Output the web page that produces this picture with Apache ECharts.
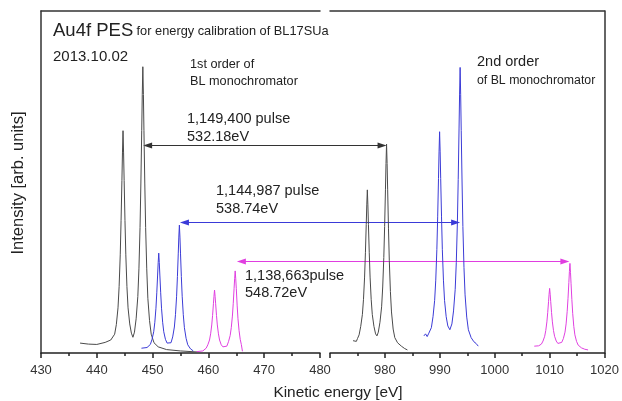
<!DOCTYPE html>
<html><head><meta charset="utf-8">
<script src="https://cdn.jsdelivr.net/npm/echarts@6/dist/echarts.min.js"></script>
<style>html,body{margin:0;padding:0;background:#fff}#c{width:622px;height:401px}</style>
</head><body><div id="c"></div>
<script>
// ---- data (kinetic energy [eV], intensity [arb.]) ----
const black1st = [[437.0,2.9],[438.5,2.6],[440.0,2.5],[441.5,3.1],[442.5,3.8],[443.2,5.5],[443.5,8.3],[443.8,13.2],[444.0,19.4],[444.2,28.7],[444.35,38.7],[444.5,50.4],[444.6,58.5],[444.7,65],[444.8,58.5],[444.9,50.4],[445.05,38.7],[445.2,28.7],[445.4,19.4],[445.6,13.2],[445.9,8.5],[446.2,5.8],[446.475,4.6],[446.75,6.1],[447.05,10],[447.35,16.5],[447.55,24.6],[447.75,36.7],[447.9,49.7],[448.05,65.1],[448.15,75.6],[448.25,83.7],[448.35,75.6],[448.45,65.1],[448.6,49.7],[448.75,36.7],[448.95,24.6],[449.15,16],[449.45,9.5],[449.75,5.5],[450.25,3],[451.0,1.8],[452.5,1.0],[455.0,0.6],[458.0,0.3]];
const blue1st = [[448.0,1.4],[449.0,1.6],[449.6,2.5],[449.9,4.0],[450.2,6.2],[450.4,9.0],[450.6,13.1],[450.75,17.6],[450.9,22.8],[451.0,26.4],[451.1,29.2],[451.2,26.4],[451.3,22.8],[451.45,17.6],[451.6,13.1],[451.8,9.0],[452.0,6.2],[452.3,4.0],[452.6,2.9],[452.95,2.7],[453.3,3.0],[453.6,4.7],[453.9,7.6],[454.1,11.2],[454.3,16.6],[454.45,22.4],[454.6,29.2],[454.7,33.9],[454.8,37.4],[454.9,33.9],[455.0,29.2],[455.15,22.4],[455.3,16.6],[455.5,11.2],[455.7,7.4],[456.0,4.3],[456.3,2.4],[456.8,1.2],[457.3,0.6]];
const magenta1st = [[457.9,0.4],[459.0,0.6],[459.6,1.4],[459.9,2.4],[460.2,3.8],[460.4,5.6],[460.6,8.2],[460.75,11.0],[460.9,14.4],[461.0,16.6],[461.1,18.4],[461.2,16.6],[461.3,14.4],[461.45,11.0],[461.6,8.2],[461.8,5.6],[462.0,3.8],[462.3,2.4],[462.6,1.8],[462.95,1.7],[463.3,2.0],[463.6,3.3],[463.9,5.1],[464.1,7.4],[464.3,10.8],[464.45,14.4],[464.6,18.8],[464.7,21.7],[464.8,24.0],[464.9,21.7],[465.0,18.8],[465.15,14.0],[465.3,10.0],[465.5,6.5],[465.7,4.0],[465.9,2.5],[466.1,0.5]];
const black2nd = [[974.2,3.6],[974.5,3.9],[974.8,3.4],[975.0,4.2],[975.3,5.3],[975.6,7.8],[975.9,11.3],[976.1,15.7],[976.3,22.2],[976.45,29.3],[976.6,37.6],[976.7,43.3],[976.8,47.7],[976.9,43.3],[977.0,37.6],[977.15,29.3],[977.3,22.2],[977.5,15.7],[977.7,11.3],[978.0,7.8],[978.3,5.6],[978.55,5.0],[978.8,6.1],[979.1,9.0],[979.4,13.5],[979.6,19.3],[979.8,27.9],[979.95,37.0],[980.1,47.9],[980.2,55.4],[980.3,61.1],[980.4,55.4],[980.5,47.9],[980.65,36.5],[980.8,27],[981.0,18],[981.2,12],[981.5,7],[981.8,4.5],[982.3,3],[983.0,2],[983.6,1.3],[984.1,0.9]];
const blue2nd = [[987.1,5.0],[987.4,5.6],[987.7,4.8],[988.0,5.8],[988.46,7.4],[988.76,10.6],[989.06,15.4],[989.26,21.3],[989.46,30.2],[989.61,39.8],[989.76,51.0],[989.86,58.8],[989.96,64.7],[990.06,58.8],[990.16,51.0],[990.31,39.8],[990.46,30.2],[990.66,21.3],[990.86,15.4],[991.16,10.6],[991.46,7.9],[991.83,6.8],[992.2,8.5],[992.5,12.3],[992.8,18.6],[993.0,26.4],[993.2,38.1],[993.35,50.7],[993.5,65.5],[993.6,75.7],[993.7,83.5],[993.8,75.5],[993.9,65],[994.05,50],[994.2,37],[994.4,25],[994.6,17],[994.9,10.5],[995.2,6.8],[995.7,4.5],[996.2,3.3],[996.6,2.8],[997.0,2.0]];
const magenta2nd = [[1007.2,2.0],[1008.0,2.1],[1008.5,2.6],[1008.8,3.5],[1009.1,4.9],[1009.3,6.6],[1009.5,9.1],[1009.65,11.8],[1009.8,15.0],[1009.9,17.2],[1010.0,18.9],[1010.1,17.2],[1010.2,15.0],[1010.35,11.8],[1010.5,9.1],[1010.7,6.6],[1010.9,4.9],[1011.2,3.5],[1011.5,2.8],[1011.85,2.6],[1012.2,3.1],[1012.5,4.2],[1012.8,6.1],[1013.0,8.5],[1013.2,12.2],[1013.35,16.0],[1013.5,20.6],[1013.6,23.8],[1013.7,26.2],[1013.8,23.6],[1013.9,20.4],[1014.05,15.6],[1014.2,11.6],[1014.4,7.8],[1014.6,5.3],[1014.9,3.4],[1015.2,2.3],[1015.8,1.5],[1016.4,1.1],[1017.0,0.9]];

// arrows between 1st and 2nd order peaks
const arrowY = [60.8, 38.4, 26.9];
const arrowLeftX = [448.3, 454.9, 465.1];
const arrowRightX = [980.3, 993.7, 1013.6];
const arrowColors = ['#333333', '#3a3ad8', '#e03ee0'];

const lowRange = [430, 480];
const highRange = [970, 1020];
const tickStep = 10;

const FONT = '"Liberation Sans", Arial, sans-serif';
const colBlack = '#4a4a4a', colBlue = '#3b3bd6', colMag = '#e040e0';

const chart = echarts.init(document.getElementById('c'));

function bottomAxis(grid, range, hideMin) {
  return {
    type: 'value', gridIndex: grid, min: range[0], max: range[1], interval: tickStep,
    position: 'bottom',
    axisLine: { show: true, onZero: false, lineStyle: { color: '#222', width: 1.5 } },
    axisTick: { show: true, inside: false, length: 5, lineStyle: { color: '#222', width: 1.5 } },
    minorTick: { show: true, splitNumber: 2, length: 3, lineStyle: { color: '#222', width: 1.5 } },
    axisLabel: { show: true, margin: 11, fontSize: 13, color: '#333', fontFamily: FONT, showMinLabel: !hideMin,
      formatter: function (v) { return String(v); } },
    splitLine: { show: false }
  };
}
function topAxis(grid, range) {
  return {
    type: 'value', gridIndex: grid, min: range[0], max: range[1], position: 'top',
    axisLine: { show: true, onZero: false, lineStyle: { color: '#333', width: 1.5 } },
    axisTick: { show: false }, axisLabel: { show: false }, splitLine: { show: false }
  };
}
function sideAxis(grid, pos) {
  return {
    type: 'value', gridIndex: grid, min: 0, max: 100, position: pos,
    axisLine: { show: true, onZero: false, lineStyle: { color: '#333', width: 1.5 } },
    axisTick: { show: false }, axisLabel: { show: false }, splitLine: { show: false }
  };
}
function line(data, xi, yi, color) {
  return { type: 'line', data: data, xAxisIndex: xi, yAxisIndex: yi, showSymbol: false, symbol: 'none',
    smooth: false, lineStyle: { color: color, width: 1 }, animation: false, silent: true };
}

chart.setOption({
  animation: false,
  grid: [
    { left: 41, right: 302, top: 11, bottom: 48 },
    { left: 330, right: 14, top: 11, bottom: 48 }
  ],
  xAxis: [ bottomAxis(0, lowRange, false), bottomAxis(1, highRange, true), topAxis(0, lowRange), topAxis(1, highRange) ],
  yAxis: [ sideAxis(0, 'left'), sideAxis(1, 'right') ],
  series: [
    line(black1st, 0, 0, colBlack), line(blue1st, 0, 0, colBlue), line(magenta1st, 0, 0, colMag),
    line(black2nd, 1, 1, colBlack), line(blue2nd, 1, 1, colBlue), line(magenta2nd, 1, 1, colMag)
  ]
});

// ---- annotations ----
const g = [];
function txt(x, y, s, size, extra) {
  g.push(Object.assign({ type: 'text', x: x, y: y, style: { text: s, fontSize: size, fontFamily: FONT, fill: '#222', verticalAlign: 'middle' } }, extra || {}));
}
g.push({ type: 'text', x: 53, y: 31, style: {
  text: '{a|Au4f PES} {b|for energy calibration of BL17SUa}', fontFamily: FONT, verticalAlign: 'middle', fill: '#222',
  rich: { a: { fontSize: 18.5, fontFamily: FONT, fill: '#222' }, b: { fontSize: 12.8, fontFamily: FONT, fill: '#222' } } } });
txt(53, 57, '2013.10.02', 15);
txt(190, 64, '1st order of', 12.7);
txt(190, 81, 'BL monochromator', 12.7);
txt(477, 62, '2nd order', 14.5);
txt(477, 81, 'of BL monochromator', 12.3);
txt(187, 119, '1,149,400 pulse', 14.5);
txt(187, 137, '532.18eV', 14.5);
txt(216, 191, '1,144,987 pulse', 14.5);
txt(216, 209, '538.74eV', 14.5);
txt(245, 276, '1,138,663pulse', 14.5);
txt(245, 293, '548.72eV', 14.5);
g.push({ type: 'text', x: 18, y: 183, rotation: Math.PI / 2, style: { text: 'Intensity [arb. units]', fontSize: 16.5, fontFamily: FONT, fill: '#222', align: 'center', verticalAlign: 'middle' } });
g.push({ type: 'text', x: 338, y: 393, style: { text: 'Kinetic energy [eV]', fontSize: 15.4, fontFamily: FONT, fill: '#222', align: 'center', verticalAlign: 'middle' } });

for (let i = 0; i < arrowY.length; i++) {
  const p1 = chart.convertToPixel({ xAxisIndex: 0, yAxisIndex: 0 }, [arrowLeftX[i], arrowY[i]]);
  const p2 = chart.convertToPixel({ xAxisIndex: 1, yAxisIndex: 1 }, [arrowRightX[i], arrowY[i]]);
  const c = arrowColors[i], y = Math.round(p1[1]) + 0.5, L = 9, H = 3;
  g.push({ type: 'line', shape: { x1: p1[0] + L - 1, y1: y, x2: p2[0] - L + 1, y2: y }, style: { stroke: c, lineWidth: 1 } });
  g.push({ type: 'polygon', shape: { points: [[p1[0], y], [p1[0] + L, y - H], [p1[0] + L, y + H]] }, style: { fill: c } });
  g.push({ type: 'polygon', shape: { points: [[p2[0], y], [p2[0] - L, y - H], [p2[0] - L, y + H]] }, style: { fill: c } });
}
chart.setOption({ graphic: g });
</script></body></html>
